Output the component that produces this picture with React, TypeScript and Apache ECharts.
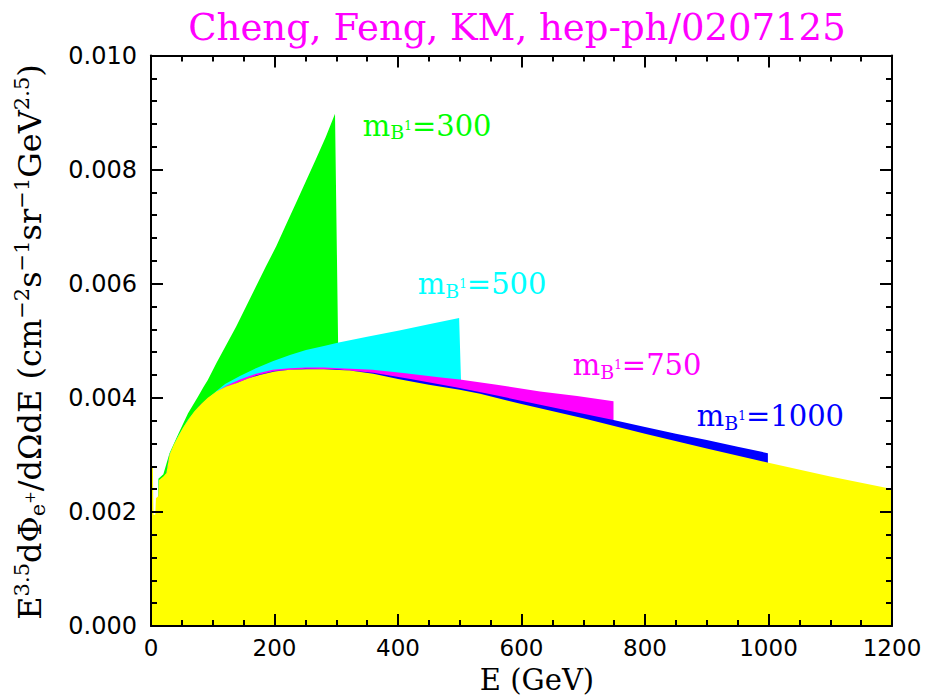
import React, { useEffect, useRef } from "react";
import * as echarts from "echarts";

// Axis ranges and tick spacing
const X_RANGE = [0, 1200];
const X_STEP = 200;
const Y_RANGE = [0, 0.01];
const Y_STEP = 0.002;

// Spectra E^3.5 dPhi/dOmega dE versus E (GeV); each band ends at its KK mass
const curve300: [number, number][] = [
  [12, 0.00258], [20, 0.00266], [30, 0.00303], [44, 0.00336], [60, 0.00373],
  [76, 0.00402], [85, 0.00419], [92, 0.00431], [106, 0.00461], [122, 0.00493],
  [138, 0.00525], [154, 0.0056], [170, 0.00595], [186, 0.0063], [203, 0.00666],
  [219, 0.00704], [235, 0.00742], [251, 0.0078], [267, 0.00818], [283, 0.00857],
  [298, 0.00898], [303, 0.00496],
];
const curve500: [number, number][] = [
  [12, 0.00225], [20, 0.0026], [25, 0.00267], [30, 0.00301], [44, 0.00333], [60, 0.00362],
  [76, 0.00383], [92, 0.00398], [106, 0.00412], [120, 0.00424], [144, 0.00438],
  [170, 0.00452], [197, 0.00464], [225, 0.00475], [251, 0.00484], [280, 0.00491],
  [304, 0.00497], [350, 0.00507], [402, 0.00518], [450, 0.00529], [499, 0.0054],
  [502, 0.00432],
];
const curve750: [number, number][] = [
  [12, 0.00225], [20, 0.0026], [25, 0.00266], [30, 0.00298], [44, 0.0033], [60, 0.0036],
  [80, 0.00388], [100, 0.00406], [122, 0.00421], [144, 0.00432], [170, 0.00442],
  [197, 0.00449], [225, 0.00452], [251, 0.00453], [280, 0.00453], [305, 0.00452],
  [359, 0.00449], [412, 0.00443], [466, 0.00436], [500, 0.00432], [560, 0.00423],
  [630, 0.00411], [690, 0.00403], [749, 0.00394],
];
const curve1000: [number, number][] = [
  [12, 0.00225], [20, 0.0026], [25, 0.00266], [30, 0.00298], [44, 0.0033], [60, 0.0036],
  [80, 0.00388], [100, 0.00404], [122, 0.00418], [144, 0.00428], [170, 0.00439],
  [200, 0.00447], [250, 0.00451], [300, 0.0045], [360, 0.00444], [420, 0.00433],
  [500, 0.00417], [560, 0.00404], [630, 0.00388], [700, 0.00372], [749, 0.00361],
  [800, 0.00349], [850, 0.00337], [900, 0.00326], [950, 0.00314], [999, 0.00303],
];
const background: [number, number][] = [
  [1, 0.0028], [3, 0.0028], [4, 0.00195], [7, 0.00195], [8, 0.00224], [12, 0.00228],
  [13, 0.00256], [20, 0.00262], [25, 0.00268], [30, 0.003], [37, 0.00318], [44, 0.00332],
  [52, 0.00348], [60, 0.00361], [70, 0.00376], [80, 0.00388], [92, 0.004], [106, 0.00411],
  [122, 0.0042], [139, 0.00426], [157, 0.00434], [176, 0.0044], [200, 0.00446],
  [225, 0.00449], [252, 0.0045], [280, 0.0045], [322, 0.00448], [360, 0.00442],
  [400, 0.00433], [450, 0.00423], [500, 0.00414], [533, 0.00407], [600, 0.00389],
  [700, 0.00364], [800, 0.00337], [900, 0.00311], [1000, 0.00286], [1100, 0.00262],
  [1200, 0.0024],
];

// Band labels: KK mass, colour, anchor point (E, value) of the label's left/middle
const bandMasses = ["300", "500", "750", "1000"];
const bandColors = ["#00ff00", "#00ffff", "#ff00ff", "#0000ff"];
const bandLabelAt: [number, number][] = [
  [343, 0.00877], [432, 0.00599], [683, 0.00457], [884, 0.00368],
];

const SERIF = "'DejaVu Serif', 'Liberation Serif', serif";
const SANS = "'DejaVu Sans', sans-serif";

function areaSeries(name: string, data: [number, number][], color: string, z: number) {
  return {
    name,
    type: "line",
    data,
    z,
    showSymbol: false,
    symbol: "none",
    silent: true,
    lineStyle: { width: 0, color },
    areaStyle: { color, opacity: 1 },
  };
}

const frameAxisCommon = {
  z: 10,
  axisLine: { show: true, onZero: false, lineStyle: { color: "#000", width: 2 } },
  axisTick: { show: true, inside: true, length: 12, lineStyle: { color: "#000", width: 2 } },
  minorTick: { show: true, length: 6, lineStyle: { color: "#000", width: 2 } },
  splitLine: { show: false },
  minorSplitLine: { show: false },
};

export default function App() {
  const ref = useRef<HTMLDivElement>(null);

  useEffect(() => {
    if (!ref.current) return;
    const chart = echarts.init(ref.current, undefined, { renderer: "svg" });

    const xAxisBase = {
      type: "value",
      min: X_RANGE[0],
      max: X_RANGE[1],
      interval: X_STEP,
      ...frameAxisCommon,
      minorTick: { ...frameAxisCommon.minorTick, splitNumber: 4 },
    };
    const yAxisBase = {
      type: "value",
      min: Y_RANGE[0],
      max: Y_RANGE[1],
      interval: Y_STEP,
      ...frameAxisCommon,
      minorTick: { ...frameAxisCommon.minorTick, splitNumber: 5 },
    };

    chart.setOption({
      animation: false,
      backgroundColor: "#ffffff",
      grid: { left: 151, right: 38, top: 55.5, bottom: 71, containLabel: false },
      xAxis: [
        {
          ...xAxisBase,
          position: "bottom",
          axisLabel: {
            show: true,
            margin: 12,
            color: "#000",
            fontFamily: SANS,
            fontSize: 23,
            lineHeight: 20,
            formatter: (v: number) => String(Math.round(v)),
          },
        },
        { ...xAxisBase, position: "top", axisLabel: { show: false } },
      ],
      yAxis: [
        {
          ...yAxisBase,
          position: "left",
          axisLabel: {
            show: true,
            margin: 14,
            color: "#000",
            fontFamily: SANS,
            fontSize: 24,
            formatter: (v: number) => v.toFixed(3),
          },
        },
        { ...yAxisBase, position: "right", axisLabel: { show: false } },
      ],
      series: [
        areaSeries("m=300", curve300, bandColors[0], 1),
        areaSeries("m=500", curve500, bandColors[1], 2),
        areaSeries("m=750", curve750, bandColors[2], 3),
        areaSeries("m=1000", curve1000, bandColors[3], 4),
        areaSeries("background", background, "#ffff00", 5),
      ],
    });

    const bandLabels = bandMasses.map((m, i) => {
      const [px, py] = chart.convertToPixel({ gridIndex: 0 }, bandLabelAt[i]) as number[];
      const fill = bandColors[i];
      return {
        type: "text",
        x: px,
        y: py,
        z: 20,
        style: {
          text: `{m|m}{b|B}{s|1}{m|=${m}}`,
          align: "left",
          verticalAlign: "middle",
          textAlign: "left",
          textVerticalAlign: "middle",
          rich: {
            m: { fontFamily: SERIF, fontSize: 29, lineHeight: 32, fill, verticalAlign: "middle" },
            b: { fontFamily: SERIF, fontSize: 19, lineHeight: 8, fill, verticalAlign: "bottom" },
            s: { fontFamily: SERIF, fontSize: 12, lineHeight: 12, fill, verticalAlign: "middle" },
          },
        },
      };
    });

    chart.setOption({
      graphic: [
        {
          type: "text",
          x: 517,
          y: 27,
          z: 20,
          style: {
            text: "Cheng, Feng, KM, hep-ph/0207125",
            fill: "#ff00ff",
            font: `37px ${SERIF}`,
            align: "center",
            verticalAlign: "middle",
            textAlign: "center",
            textVerticalAlign: "middle",
          },
        },
        {
          type: "text",
          x: 537,
          y: 680,
          z: 20,
          style: {
            text: "{t|E (GeV)}",
            align: "center",
            verticalAlign: "middle",
            textAlign: "center",
            textVerticalAlign: "middle",
            rich: {
              t: { fontFamily: SERIF, fontSize: 29, lineHeight: 28, fill: "#000" },
            },
          },
        },
        {
          type: "text",
          x: 30,
          y: 342,
          z: 20,
          rotation: Math.PI / 2,
          style: {
            text:
              "{n|E}{sup|3.5}{n|dΦ}{sub|e}{pl|+}{n|/dΩdE (cm}{sup|−2}{n|s}{sup|−1}{n|sr}{sup|−1}{n|GeV}{sup|2.5}{n|)}",
            align: "center",
            verticalAlign: "middle",
            textAlign: "center",
            textVerticalAlign: "middle",
            rich: {
              n: { fontFamily: SERIF, fontSize: 32, lineHeight: 37, fill: "#000", verticalAlign: "middle" },
              sup: { fontFamily: SERIF, fontSize: 21, lineHeight: 21, fill: "#000", verticalAlign: "top" },
              sub: { fontFamily: SERIF, fontSize: 21, lineHeight: 12, fill: "#000", verticalAlign: "bottom" },
              pl: { fontFamily: SERIF, fontSize: 15, lineHeight: 15, fill: "#000", verticalAlign: "middle" },
            },
          },
        },
        ...bandLabels,
      ],
    });

    return () => chart.dispose();
  }, []);

  return (
    <div
      ref={ref}
      style={{ position: "fixed", left: 0, top: 0, width: 930, height: 697, background: "#fff" }}
    />
  );
}
